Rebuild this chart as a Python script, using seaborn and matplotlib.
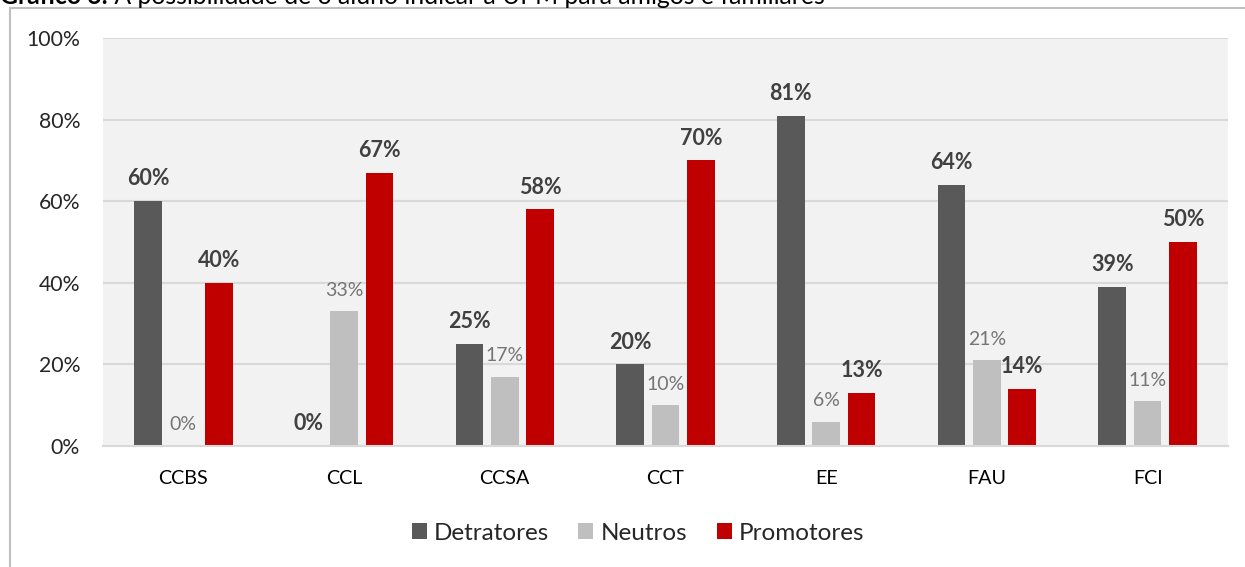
import matplotlib
matplotlib.use("Agg")
import matplotlib.pyplot as plt
import seaborn as sns
import pandas as pd
from matplotlib.patches import Rectangle

categories = ["CCBS", "CCL", "CCSA", "CCT", "EE", "FAU", "FCI"]
series = ["Detratores", "Neutros", "Promotores"]
detratores = [60, 0, 25, 20, 81, 64, 39]
neutros = [0, 33, 17, 10, 6, 21, 11]
promotores = [40, 67, 58, 70, 13, 14, 50]
y_ticks = [0, 20, 40, 60, 80, 100]
colors = ["#595959", "#bfbfbf", "#c00000"]
title_bold = "Gráfico 6:"
title_rest = " A possibilidade de o aluno indicar a UPM para amigos e familiares"

rows = []
for s, vals in zip(series, [detratores, neutros, promotores]):
    for c, v in zip(categories, vals):
        rows.append({"Curso": c, "Serie": s, "Valor": v})
df = pd.DataFrame(rows)

sns.set_theme(style="white")
plt.rcParams["font.family"] = ["Lato", "DejaVu Sans"]

fig = plt.figure(figsize=(12.45, 5.67), dpi=100)
ax = fig.add_axes([103/1245, 1 - 446/567, (1228-103)/1245, (446-38)/567])
ax.set_facecolor("#f2f2f2")

sns.barplot(data=df, x="Curso", y="Valor", hue="Serie", order=categories,
            hue_order=series, palette=colors, width=0.66, gap=0.22,
            saturation=1, ax=ax, legend=True, edgecolor="none", linewidth=0)

ax.set_ylim(0, 100)
ax.set_xlim(-0.5, len(categories) - 0.5)
ax.set_yticks(y_ticks)
ax.set_yticklabels([f"{t}%" for t in y_ticks], fontsize=15.3, color="#262626")
ax.tick_params(axis="y", length=0, pad=16.5)
ax.tick_params(axis="x", length=0, pad=17, labelsize=14.2, labelcolor="#000000")
ax.set_xlabel("")
ax.set_ylabel("")
ax.yaxis.grid(True, color="#d9d9d9", linewidth=1.5)
ax.set_axisbelow(True)
for side in ["left", "right", "top"]:
    ax.spines[side].set_visible(False)
ax.spines["bottom"].set_color("#d9d9d9")
ax.spines["bottom"].set_linewidth(1.5)

for i, cont in enumerate(ax.containers):
    vals = [detratores, neutros, promotores][i]
    labels = [f"{v}%" for v in vals]
    if i == 1:
        ax.bar_label(cont, labels=labels, padding=9, fontsize=14,
                     color="#757575")
    else:
        ax.bar_label(cont, labels=labels, padding=8.5, fontsize=15.5,
                     color="#404040", fontweight="bold")

handles, lbls = ax.get_legend_handles_labels()
ax.legend(handles, lbls, loc="center", bbox_to_anchor=(638/1245, 1 - 533/567),
          bbox_transform=fig.transFigure, ncol=3, frameon=False,
          fontsize=17.5, handlelength=0.62, handleheight=0.62,
          handletextpad=0.3, columnspacing=1.2, labelcolor="#262626")

fig.patches.append(Rectangle((10/1245, -0.1), 1.2, 1 - 8/567 + 0.1,
                             transform=fig.transFigure, fill=False,
                             edgecolor="#bfbfbf", linewidth=1.5))

t1 = fig.text(0/1245, 1 - 4/567, title_bold, fontsize=17.8, fontweight="bold",
              color="#000000", va="baseline", ha="left")
fig.canvas.draw()
bb = t1.get_window_extent()
fig.text(bb.x1/1245, 1 - 4/567, title_rest, fontsize=17.8, color="#000000",
         va="baseline", ha="left")

fig.savefig("out.png", dpi=100)
